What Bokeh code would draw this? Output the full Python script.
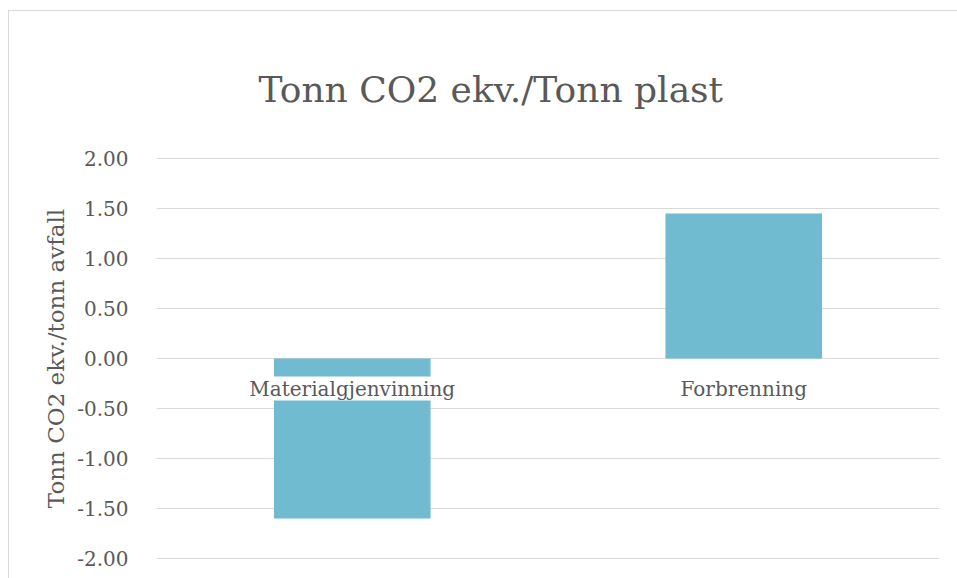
from bokeh.plotting import figure
from bokeh.models import (FixedTicker, NumeralTickFormatter, Range1d, FactorRange,
                          LabelSet, ColumnDataSource)
from bokeh.core.properties import value
from bokeh.embed import file_html
from bokeh.resources import INLINE

title_text = "Tonn CO2 ekv./Tonn plast"
categories = ["Materialgjenvinning", "Forbrenning"]
values = [-1.60, 1.45]
y_ticks = [-2.0, -1.5, -1.0, -0.5, 0.0, 0.5, 1.0, 1.5, 2.0]

FONT = "DejaVu Serif"
TXT = "#595959"
GRID = "#d9d9d9"

src = ColumnDataSource(dict(cat=categories, val=values, zero=[0] * len(categories)))

p = figure(
    x_range=FactorRange(*categories, range_padding=0),
    y_range=Range1d(-2.01, 2.01),
    width=949, height=568,
    margin=(10, 0, 0, 8),
    output_backend="svg", toolbar_location=None,
    title=title_text,
    min_border_left=147, min_border_right=19,
    min_border_top=146, min_border_bottom=20,
)
p.styles = {"border-left": "1px solid #d9d9d9", "border-top": "1px solid #d9d9d9"}

p.vbar(x="cat", top="val", bottom=0, width=0.4, source=src,
       fill_color="#70bbd0", line_color=None)

labels = LabelSet(x="cat", y="zero", text="cat", source=src,
                  y_offset=-30, text_align="center", text_baseline="middle",
                  text_font=value(FONT), text_font_size=value("20px"), text_color=TXT,
                  text_line_height=1.45,
                  background_fill_color="white")
p.add_layout(labels)

p.title.align = "left"
p.title.offset = 102
p.title.text_font = FONT
p.title.text_font_size = "36px"
p.title.text_font_style = "normal"
p.title.text_color = TXT
p.title.standoff = 96

p.outline_line_color = None
p.xgrid.grid_line_color = None
p.ygrid.grid_line_color = GRID
p.ygrid.grid_line_width = 1

ya = p.yaxis[0]
ya.ticker = FixedTicker(ticks=y_ticks)
ya.formatter = NumeralTickFormatter(format="0.00")
ya.axis_line_color = None
ya.major_tick_line_color = None
ya.minor_tick_line_color = None
ya.major_label_standoff = 22
ya.major_label_text_font = FONT
ya.major_label_text_font_size = "20px"
ya.major_label_text_color = TXT
ya.axis_label = "Tonn CO2 ekv./tonn avfall"
ya.axis_label_text_font = FONT
ya.axis_label_text_font_size = "23px"
ya.axis_label_text_font_style = "normal"
ya.axis_label_text_color = TXT
ya.axis_label_standoff = 5

p.xaxis.visible = False

open("out.html", "w").write(file_html(p, INLINE))
